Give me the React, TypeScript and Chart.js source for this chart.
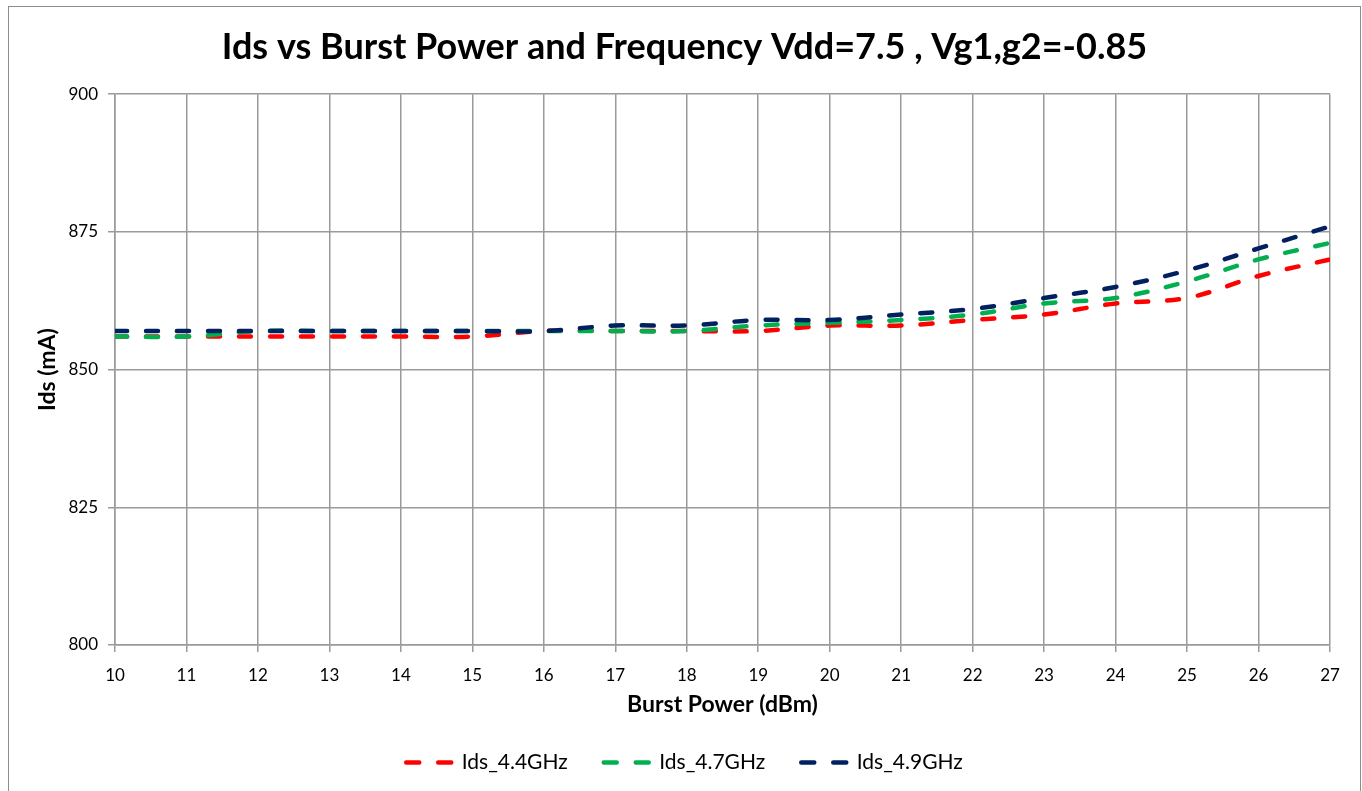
import React, { useEffect, useRef } from "react";
import { Chart, registerables } from "chart.js";

Chart.register(...registerables);

const burstPower = [10, 11, 12, 13, 14, 15, 16, 17, 18, 19, 20, 21, 22, 23, 24, 25, 26, 27];
const ids44 = [856, 856, 856, 856, 856, 856, 857, 857, 857, 857, 858, 858, 859, 860, 862, 863, 867, 870];
const ids47 = [856, 856, 857, 857, 857, 857, 857, 857, 857, 858, 858.5, 859, 860, 862, 863, 866, 870, 873];
const ids49 = [857, 857, 857, 857, 857, 857, 857, 858, 858, 859, 859, 860, 861, 863, 865, 868, 872, 876];
const seriesNames = ["Ids_4.4GHz", "Ids_4.7GHz", "Ids_4.9GHz"];
const seriesColors = ["#FF0000", "#00B050", "#002060"];
const yTicks = [800, 825, 850, 875, 900];

const FONT = "Lato, 'Open Sans', sans-serif";

export default function App() {
  const ref = useRef<HTMLCanvasElement | null>(null);
  useEffect(() => {
    if (!ref.current) return;
    const all = [ids44, ids47, ids49];
    const chart = new Chart(ref.current, {
      type: "line",
      data: {
        datasets: all.map((vals, i) => ({
          label: seriesNames[i],
          data: vals.map((v, j) => ({ x: burstPower[j], y: v })),
          borderColor: seriesColors[i],
          backgroundColor: seriesColors[i],
          borderWidth: 4.5,
          borderDash: [12, 19],
          borderCapStyle: "round" as const,
          pointRadius: 0,
          tension: 0.35,
          fill: false,
          order: 3 - i,
        })),
      },
      options: {
        animation: false,
        responsive: false,
        maintainAspectRatio: false,
        layout: { padding: { left: 30, right: 30, top: 0, bottom: 8 } },
        plugins: {
          title: {
            display: true,
            text: "Ids vs Burst Power and Frequency Vdd=7.5 , Vg1,g2=-0.85",
            color: "#000",
            font: { family: FONT, size: 36, weight: "bold" },
            padding: { top: 19, bottom: 25 },
          },
          legend: {
            position: "bottom",
            labels: {
              color: "#000",
              font: { family: FONT, size: 21 },
              usePointStyle: true,
              pointStyleWidth: 45,
              padding: 36,
              generateLabels: (c: any) =>
                c.data.datasets.map((d: any, i: number) => ({
                  text: d.label,
                  fillStyle: "transparent",
                  strokeStyle: d.borderColor,
                  lineWidth: 4.5,
                  lineDash: [13, 19],
                  lineCap: "round",
                  pointStyle: "line",
                  fontColor: "#000",
                  hidden: false,
                  datasetIndex: i,
                })),
            },
          },
          tooltip: { enabled: false },
        },
        scales: {
          x: {
            type: "linear",
            min: 10,
            max: 27,
            afterBuildTicks: (s: any) => {
              s.ticks = burstPower.map((v) => ({ value: v }));
            },
            afterFit: (s: any) => {
              s.height = 71;
            },
            grid: { color: "#9a9a9a", lineWidth: 1.5, tickLength: 7 },
            border: { color: "#9a9a9a", width: 1.5 },
            ticks: { color: "#000", font: { family: FONT, size: 17 }, padding: 13, maxRotation: 0 },
            title: {
              display: true,
              text: "Burst Power (dBm)",
              color: "#000",
              font: { family: FONT, size: 23, weight: "bold" },
              padding: { top: 4, bottom: -2 },
            },
          },
          y: {
            type: "linear",
            min: 800,
            max: 900,
            afterBuildTicks: (s: any) => {
              s.ticks = yTicks.map((v) => ({ value: v }));
            },
            afterFit: (s: any) => {
              s.width = 76;
            },
            grid: { color: "#9a9a9a", lineWidth: 1.5, tickLength: 7 },
            border: { color: "#9a9a9a", width: 1.5 },
            ticks: { color: "#000", font: { family: FONT, size: 17 }, padding: 10 },
            title: {
              display: true,
              text: "Ids (mA)",
              color: "#000",
              font: { family: FONT, size: 23, weight: "bold" },
              padding: { top: -5, bottom: 0 },
            },
          },
        },
      },
    });
    return () => chart.destroy();
  }, []);
  return (
    <div
      style={{
        position: "absolute",
        left: 8,
        top: 6,
        width: 1351,
        height: 800,
        border: "1px solid #8c8c8c",
        background: "#fff",
      }}
    >
      <canvas ref={ref} width={1351} height={784} style={{ display: "block" }} />
    </div>
  );
}
